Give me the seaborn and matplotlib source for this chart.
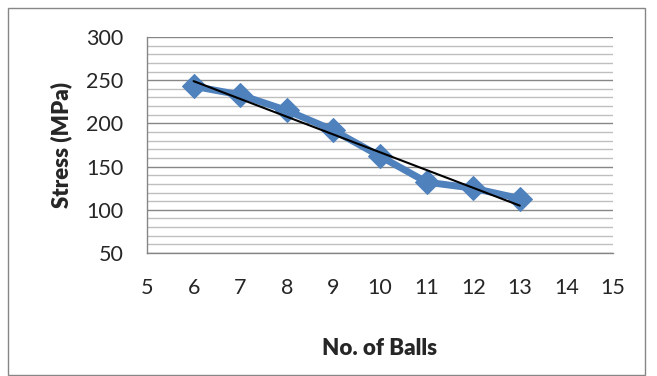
import numpy as np
import pandas as pd
import matplotlib
matplotlib.use('Agg')
import matplotlib.pyplot as plt
import seaborn as sns
from matplotlib.ticker import MultipleLocator

balls = [6, 7, 8, 9, 10, 11, 12, 13]
stress = [243, 233, 215, 192, 162, 132, 125, 113]

df = pd.DataFrame({'balls': balls, 'stress': stress})

sns.set_style('white')
plt.rcParams['font.family'] = ['Lato', 'DejaVu Sans']

fig = plt.figure(figsize=(6.57, 3.76), dpi=100)
ax = fig.add_axes([147 / 657, 1 - 253 / 376, (613 - 147) / 657, (253 - 37) / 376])

# outer chart border
fig.patches.append(plt.Rectangle((8 / 657, 1 / 376), 637 / 657, 367 / 376,
                                 transform=fig.transFigure, fill=False,
                                 edgecolor='#868686', linewidth=1))

sns.lineplot(x='balls', y='stress', data=df, ax=ax, color='#4F81BD',
             linewidth=5, marker='D', markersize=12, markeredgecolor='#4F81BD')

# linear trendline
k, b = np.polyfit(df['balls'], df['stress'], 1)
xs = np.array([df['balls'].min(), df['balls'].max()])
ax.plot(xs, k * xs + b, color='black', linewidth=1.5)

ax.set_xlim(5, 15)
ax.set_ylim(50, 300)
ax.xaxis.set_major_locator(MultipleLocator(1))
ax.yaxis.set_major_locator(MultipleLocator(50))
ax.yaxis.set_minor_locator(MultipleLocator(10))
ax.grid(which='major', axis='y', color='#868686', linewidth=1)
ax.grid(which='minor', axis='y', color='#BFBFBF', linewidth=1)
ax.set_axisbelow(True)

for s in ['top', 'right']:
    ax.spines[s].set_visible(False)
for s in ['left', 'bottom']:
    ax.spines[s].set_color('#868686')
    ax.spines[s].set_linewidth(1)

ax.tick_params(axis='both', which='major', length=6, color='#868686',
               labelsize=15.5, direction='out')
ax.tick_params(axis='y', which='major', direction='inout', length=10, pad=12)
ax.tick_params(axis='y', which='minor', length=0)
ax.tick_params(axis='x', pad=12)

ax.set_xlabel('No. of Balls', fontsize=16, fontweight='heavy', labelpad=29)
ax.set_ylabel('Stress (MPa)', fontsize=16, fontweight='heavy', labelpad=10)

fig.savefig('out.png', dpi=100)
